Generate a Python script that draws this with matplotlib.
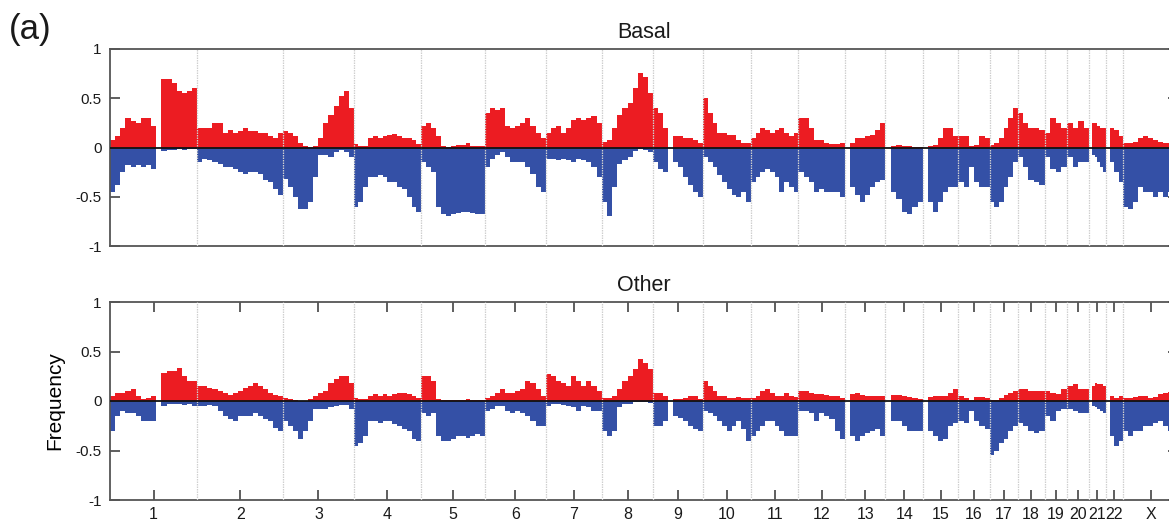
"""
Genome-wide copy-number frequency plot: gains (red, above zero) and
losses (blue, below zero) along chromosomes 1-22 and X, for two subgroups.
"""

import matplotlib
matplotlib.use("Agg")
import matplotlib.pyplot as plt
import numpy as np


CHROMS = [str(i) for i in range(1, 23)] + ["X"]
CHROM_LEN_MB = [247.2, 242.9, 199.5, 191.3, 180.9, 170.9, 158.8, 146.3, 140.3,
                135.4, 134.5, 132.3, 114.1, 106.4, 100.3, 88.8, 78.8, 76.1,
                63.8, 62.4, 46.9, 49.7, 154.9]

# Each inner list spans one chromosome in equal-sized bins; None = no probes.
BASAL_GAIN = [
    [0.08, 0.12, 0.2, 0.3, 0.27, 0.25, 0.3, 0.3, 0.22, None, 0.7, 0.7, 0.65, 0.57, 0.55, 0.57, 0.6],
    [0.2, 0.2, 0.2, 0.25, 0.25, 0.15, 0.18, 0.15, 0.17, 0.2, 0.17, 0.17, 0.15, 0.15, 0.12, 0.1, 0.15],
    [0.17, 0.15, 0.12, 0.05, 0.02, 0.01, 0.02, 0.1, 0.25, 0.33, 0.42, 0.52, 0.57, 0.4],
    [0.04, 0.02, 0.02, 0.1, 0.12, 0.1, 0.12, 0.13, 0.14, 0.12, 0.1, 0.1, 0.08, 0.04],
    [0.22, 0.25, 0.2, 0.12, 0.02, 0.01, 0.02, 0.03, 0.03, 0.05, 0.02, 0.02, 0.02],
    [0.35, 0.4, 0.38, 0.4, 0.22, 0.2, 0.22, 0.25, 0.3, 0.22, 0.15, 0.1],
    [0.15, 0.2, 0.22, 0.15, 0.2, 0.28, 0.3, 0.28, 0.3, 0.32, 0.25],
    [0.06, 0.08, 0.2, 0.33, 0.4, 0.45, 0.6, 0.76, 0.72, 0.55],
    [0.4, 0.35, 0.2, None, 0.12, 0.12, 0.1, 0.1, 0.08, 0.05],
    [0.5, 0.35, 0.25, 0.15, 0.15, 0.13, 0.13, 0.08, 0.05, 0.05],
    [0.1, 0.15, 0.2, 0.18, 0.15, 0.18, 0.2, 0.15, 0.12, 0.15],
    [0.3, 0.3, 0.2, 0.08, 0.08, 0.05, 0.04, 0.04, 0.05],
    [None, 0.05, 0.1, 0.1, 0.12, 0.13, 0.18, 0.25],
    [None, 0.02, 0.03, 0.02, 0.02, 0.01, 0.01],
    [None, 0.02, 0.03, 0.1, 0.2, 0.2, 0.12],
    [0.12, 0.12, 0.02, 0.03, 0.12, 0.1],
    [0.03, 0.05, 0.1, 0.2, 0.3, 0.4],
    [0.35, 0.25, 0.2, 0.2, 0.18],
    [0.15, 0.3, 0.25, 0.2],
    [0.25, 0.2, 0.27, 0.2],
    [None, 0.25, 0.25, 0.22, 0.2, 0.2],
    [None, 0.2, 0.18, 0.12],
    [0.05, 0.05, 0.06, 0.1, 0.12, 0.1, 0.08, 0.06, 0.05, 0.05, 0.05],
]
BASAL_LOSS = [
    [-0.45, -0.38, -0.25, -0.18, -0.2, -0.18, -0.2, -0.18, -0.22, None, -0.04, -0.03, -0.03, -0.02, -0.03, -0.02, -0.02],
    [-0.15, -0.12, -0.13, -0.15, -0.17, -0.2, -0.2, -0.22, -0.25, -0.27, -0.25, -0.25, -0.27, -0.33, -0.35, -0.42, -0.48],
    [-0.32, -0.4, -0.5, -0.62, -0.62, -0.55, -0.3, -0.08, -0.08, -0.1, -0.05, -0.03, -0.05, -0.1],
    [-0.6, -0.55, -0.4, -0.3, -0.3, -0.28, -0.3, -0.35, -0.35, -0.4, -0.42, -0.5, -0.6, -0.65],
    [-0.15, -0.2, -0.25, -0.6, -0.68, -0.7, -0.68, -0.67, -0.65, -0.65, -0.66, -0.68, -0.68],
    [-0.2, -0.12, -0.08, -0.05, -0.1, -0.15, -0.15, -0.15, -0.2, -0.27, -0.4, -0.45],
    [-0.12, -0.12, -0.13, -0.12, -0.13, -0.15, -0.12, -0.13, -0.15, -0.2, -0.3],
    [-0.55, -0.7, -0.4, -0.17, -0.13, -0.1, -0.04, -0.02, -0.03, -0.05],
    [-0.15, -0.22, -0.25, None, -0.15, -0.2, -0.3, -0.38, -0.45, -0.5],
    [-0.1, -0.15, -0.2, -0.28, -0.35, -0.42, -0.48, -0.5, -0.45, -0.55],
    [-0.35, -0.3, -0.25, -0.22, -0.25, -0.3, -0.45, -0.35, -0.4, -0.45],
    [-0.25, -0.3, -0.35, -0.45, -0.42, -0.45, -0.45, -0.45, -0.5],
    [None, -0.4, -0.48, -0.55, -0.48, -0.4, -0.35, -0.33],
    [None, -0.45, -0.52, -0.65, -0.68, -0.6, -0.55],
    [None, -0.55, -0.65, -0.55, -0.45, -0.4, -0.4],
    [-0.35, -0.4, -0.2, -0.35, -0.4, -0.4],
    [-0.55, -0.6, -0.55, -0.4, -0.3, -0.15],
    [-0.1, -0.2, -0.33, -0.35, -0.38],
    [-0.1, -0.22, -0.25, -0.2],
    [-0.1, -0.2, -0.15, -0.15],
    [None, -0.08, -0.1, -0.15, -0.2, -0.25],
    [None, -0.15, -0.25, -0.35],
    [-0.6, -0.62, -0.55, -0.4, -0.45, -0.45, -0.5, -0.45, -0.5, -0.45, -0.45],
]
OTHER_GAIN = [
    [0.05, 0.08, 0.08, 0.1, 0.12, 0.05, 0.02, 0.03, 0.05, None, 0.28, 0.3, 0.3, 0.33, 0.25, 0.2, 0.2],
    [0.15, 0.15, 0.13, 0.12, 0.1, 0.08, 0.06, 0.08, 0.1, 0.13, 0.15, 0.18, 0.15, 0.12, 0.08, 0.06, 0.05],
    [0.03, 0.02, 0.01, 0.0, 0.0, 0.02, 0.05, 0.08, 0.1, 0.18, 0.22, 0.25, 0.25, 0.18],
    [0.03, 0.02, 0.02, 0.05, 0.07, 0.05, 0.07, 0.05, 0.07, 0.08, 0.08, 0.07, 0.05, 0.03],
    [0.25, 0.25, 0.2, 0.02, 0.01, 0.01, 0.01, 0.01, 0.01, 0.02, 0.01, 0.01, 0.01],
    [0.03, 0.05, 0.08, 0.12, 0.08, 0.08, 0.1, 0.12, 0.2, 0.18, 0.12, 0.05],
    [0.27, 0.25, 0.2, 0.18, 0.15, 0.25, 0.2, 0.15, 0.2, 0.15, 0.1],
    [0.03, 0.03, 0.05, 0.12, 0.2, 0.25, 0.32, 0.42, 0.38, 0.32],
    [0.08, 0.08, 0.05, None, 0.02, 0.02, 0.03, 0.05, 0.05, 0.02],
    [0.2, 0.15, 0.1, 0.05, 0.05, 0.03, 0.03, 0.04, 0.03, 0.03],
    [0.03, 0.05, 0.1, 0.12, 0.08, 0.05, 0.05, 0.08, 0.05, 0.04],
    [0.1, 0.1, 0.08, 0.07, 0.07, 0.06, 0.05, 0.05, 0.03],
    [None, 0.07, 0.08, 0.06, 0.05, 0.05, 0.05, 0.05],
    [None, 0.06, 0.06, 0.05, 0.04, 0.03, 0.02],
    [None, 0.04, 0.05, 0.05, 0.05, 0.08, 0.12],
    [0.05, 0.03, 0.01, 0.04, 0.04, 0.03],
    [0.01, 0.01, 0.03, 0.06, 0.08, 0.1],
    [0.12, 0.12, 0.1, 0.1, 0.1],
    [0.1, 0.08, 0.07, 0.12],
    [0.15, 0.17, 0.12, 0.12],
    [None, 0.15, 0.18, 0.17, 0.17, 0.15],
    [None, 0.05, 0.03, 0.05],
    [0.03, 0.03, 0.04, 0.05, 0.05, 0.03, 0.04, 0.07, 0.08, 0.09, 0.09],
]
OTHER_LOSS = [
    [-0.3, -0.15, -0.1, -0.12, -0.12, -0.15, -0.2, -0.2, -0.2, None, -0.05, -0.03, -0.03, -0.03, -0.04, -0.03, -0.05],
    [-0.05, -0.05, -0.04, -0.05, -0.1, -0.15, -0.18, -0.2, -0.15, -0.15, -0.15, -0.12, -0.15, -0.18, -0.2, -0.27, -0.3],
    [-0.2, -0.25, -0.3, -0.38, -0.3, -0.2, -0.08, -0.08, -0.08, -0.06, -0.05, -0.04, -0.04, -0.08],
    [-0.45, -0.42, -0.35, -0.2, -0.2, -0.22, -0.2, -0.2, -0.23, -0.25, -0.28, -0.3, -0.38, -0.4],
    [-0.12, -0.15, -0.12, -0.35, -0.4, -0.4, -0.38, -0.35, -0.35, -0.37, -0.35, -0.33, -0.35],
    [-0.1, -0.08, -0.05, -0.05, -0.1, -0.12, -0.1, -0.12, -0.15, -0.2, -0.25, -0.25],
    [-0.05, -0.03, -0.03, -0.04, -0.05, -0.06, -0.1, -0.05, -0.06, -0.1, -0.1],
    [-0.3, -0.35, -0.3, -0.06, -0.03, -0.03, -0.01, -0.01, -0.01, -0.02],
    [-0.25, -0.25, -0.2, None, -0.15, -0.17, -0.2, -0.25, -0.28, -0.3],
    [-0.1, -0.12, -0.15, -0.2, -0.25, -0.3, -0.25, -0.2, -0.28, -0.4],
    [-0.35, -0.3, -0.25, -0.2, -0.2, -0.25, -0.3, -0.35, -0.35, -0.35],
    [-0.1, -0.1, -0.12, -0.2, -0.12, -0.15, -0.18, -0.3, -0.38],
    [None, -0.35, -0.4, -0.35, -0.32, -0.3, -0.28, -0.35],
    [None, -0.2, -0.2, -0.25, -0.3, -0.3, -0.3],
    [None, -0.3, -0.35, -0.4, -0.38, -0.25, -0.22],
    [-0.2, -0.22, -0.1, -0.2, -0.25, -0.28],
    [-0.55, -0.5, -0.42, -0.38, -0.3, -0.25],
    [-0.22, -0.25, -0.3, -0.32, -0.3],
    [-0.15, -0.2, -0.1, -0.08],
    [-0.08, -0.1, -0.12, -0.12],
    [None, -0.05, -0.06, -0.08, -0.1, -0.12],
    [None, -0.35, -0.45, -0.4],
    [-0.3, -0.35, -0.3, -0.3, -0.25, -0.25, -0.22, -0.2, -0.25, -0.3, -0.25],
]

GAIN_COLOR = "#ec1c22"
LOSS_COLOR = "#3450a6"


def _offsets():
    lengths = np.asarray(CHROM_LEN_MB)
    starts = np.concatenate([[0.0], np.cumsum(lengths)[:-1]])
    return starts, lengths


def _draw_profile(ax, profile, color):
    starts, lengths = _offsets()
    for start, length, vals in zip(starts, lengths, profile):
        vals = np.array([np.nan if v is None else v for v in vals], dtype=float)
        edges = start + np.linspace(0, length, len(vals) + 1)
        ax.stairs(vals, edges, baseline=0, fill=True, color=color,
                  linewidth=0, zorder=2)


def _panel(ax, title, gain, loss, show_x):
    starts, lengths = _offsets()
    _draw_profile(ax, gain, GAIN_COLOR)
    _draw_profile(ax, loss, LOSS_COLOR)

    for b in (starts + lengths)[:-1]:
        ax.axvline(b, color="#cfcfcf", linewidth=0.9, linestyle=(0, (1.2, 0.8)),
                   zorder=3)
    ax.axhline(0, color="#111111", linewidth=1.3, zorder=4)

    ax.set_xlim(0, float(np.sum(lengths)))
    ax.set_ylim(-1, 1)
    ax.set_yticks([-1, -0.5, 0, 0.5, 1])
    ax.set_yticklabels(["-1", "-0.5", "0", "0.5", "1"])
    ax.tick_params(axis="y", direction="in", length=7, width=1.1,
                   left=True, right=True, labelsize=11, pad=6)

    if show_x:
        ax.set_xticks(starts + lengths / 2)
        ax.set_xticklabels(CHROMS)
        ax.tick_params(axis="x", direction="in", length=7, width=1.1,
                       top=True, bottom=True, labelsize=11.5, pad=5)
    else:
        ax.set_xticks([])

    for s in ax.spines.values():
        s.set_color("#555555")
        s.set_linewidth(1.3)
    ax.set_title(title, fontsize=15.5, pad=8)


def main():
    plt.rcParams.update({
        "font.family": "Liberation Sans",
        "axes.unicode_minus": False,
        "text.color": "#1a1a1a",
        "xtick.color": "#333333",
        "ytick.color": "#333333",
        "xtick.labelcolor": "#1a1a1a",
        "ytick.labelcolor": "#1a1a1a",
    })

    fig = plt.figure(figsize=(11.69, 5.22), dpi=100)
    left, width = 110 / 1169, 1068 / 1169
    ax_top = fig.add_axes([left, 276 / 522, width, 197 / 522])
    ax_bot = fig.add_axes([left, 22 / 522, width, 198 / 522])

    _panel(ax_top, "Basal", BASAL_GAIN, BASAL_LOSS, show_x=False)
    _panel(ax_bot, "Other", OTHER_GAIN, OTHER_LOSS, show_x=True)
    ax_bot.set_ylabel("Frequency", fontsize=15, labelpad=8)

    fig.text(0.008, 0.943, "(a)", fontsize=25, va="center", ha="left")

    fig.savefig("out.png", dpi=100)
    plt.close(fig)


if __name__ == "__main__":
    main()
